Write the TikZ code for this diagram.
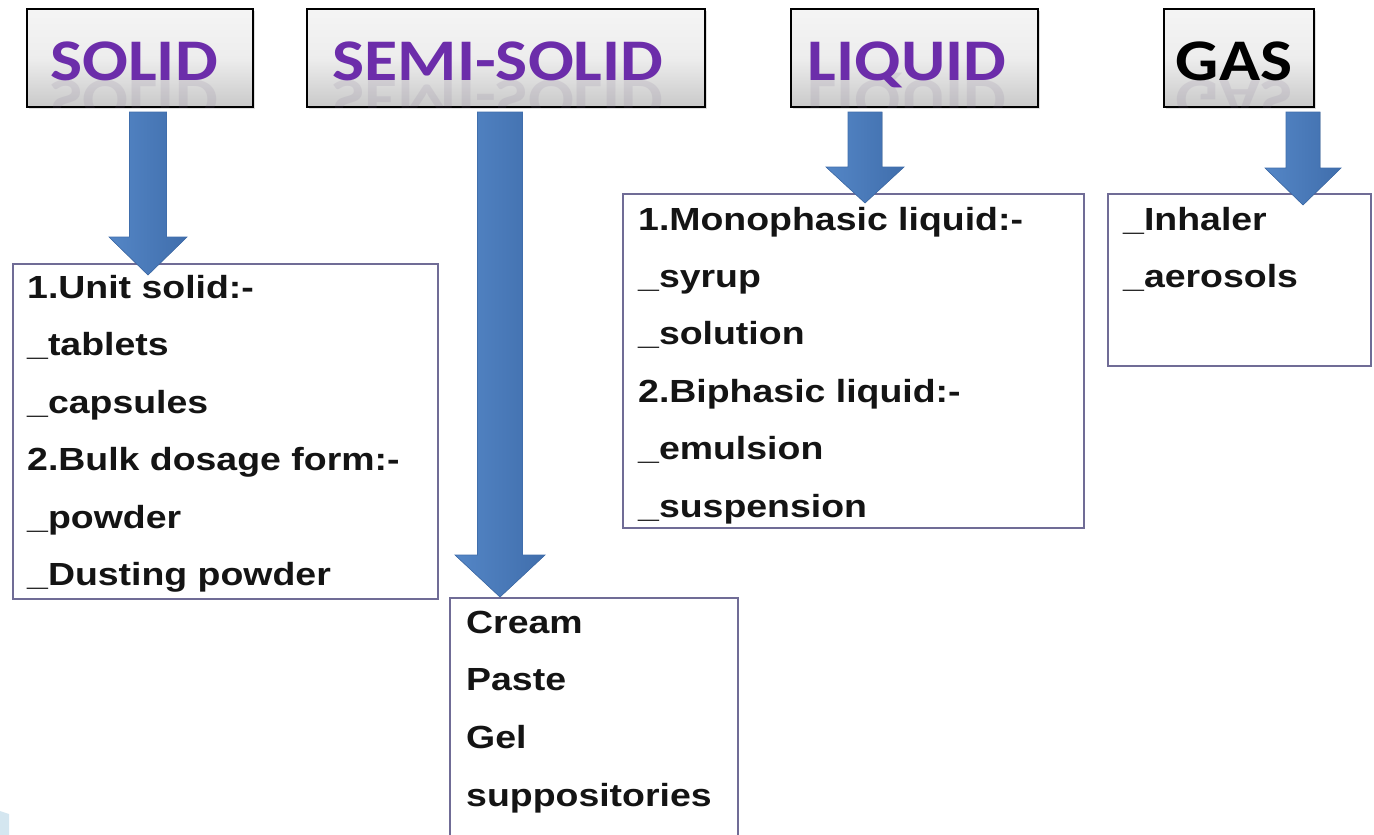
\documentclass[tikz,border=0pt]{standalone}
\usepackage{fontspec}
\usepackage{graphicx}
\setmainfont{Liberation Sans}
\newfontfamily\bodyfont[FakeStretch=1.17]{Liberation Sans}
\newfontfamily\hdrfont[FakeStretch=1.15]{Carlito}
\usetikzlibrary{shadows,calc}
\definecolor{hdrpurple}{RGB}{108,45,170}
\definecolor{arrowblue}{RGB}{84,134,198}
\definecolor{arrowdark}{RGB}{64,110,172}
\definecolor{boxline}{RGB}{112,108,150}
\definecolor{cornerblue}{RGB}{212,230,240}
\tikzset{
  hdrbox/.style={draw=black, line width=1.6pt, top color=gray!8, bottom color=gray!42, middle color=gray!14,
    inner sep=0pt, anchor=north west, drop shadow={shadow xshift=2pt, shadow yshift=-2pt, opacity=0.25}},
  hdrtext/.style={font=\hdrfont\bfseries\fontsize{59}{60}\selectfont, text=hdrpurple, inner sep=0pt, anchor=base},
  hdrrefl/.style={hdrtext, text=gray!70!hdrpurple, opacity=0.13},
  listbox/.style={draw=boxline, line width=1.6pt, fill=white, inner sep=0pt, anchor=north west},
  listtext/.style={font=\bodyfont\bfseries\fontsize{32}{34}\selectfont, text=black!92, inner sep=0pt, anchor=base west},
  arrowshape/.style={left color=arrowblue, right color=arrowdark, draw=arrowdark, line width=0.6pt},
}
% cx, top, head top, tip, shaft half width, head half width
\newcommand\blockarrow[6]{%
  \filldraw[arrowshape] (#1-#5,#2) -- (#1+#5,#2) -- (#1+#5,#3) -- (#1+#6,#3) -- (#1,#4)
    -- (#1-#6,#3) -- (#1-#5,#3) -- cycle;}
% header: name, x, width, text centre x, text, colour
\newcommand\header[6]{%
  \node[hdrbox, minimum width=#3pt, minimum height=98pt] (#1) at (#2,8) {};
  \begin{scope}
    \clip (#1.south west) rectangle (#1.north east);
    \node[hdrrefl] (#1r) at (#4,80) {\scalebox{1}[-1]{#5}};
  \end{scope}
  \node[hdrtext, text=#6] (#1t) at (#4,80) {#5};}
\begin{document}
\begin{tikzpicture}[x=1pt,y=-1pt]
\useasboundingbox[fill=white] (0,0) rectangle (1374,835);

% headers
\header{hsolid}{26}{226}{134}{SOLID}{hdrpurple}
\header{hsemi}{306}{398}{498}{SEMI-SOLID}{hdrpurple}
\header{hliquid}{790}{247}{907}{LIQUID}{hdrpurple}
\header{hgas}{1163}{150}{1234}{GAS}{black}

% content boxes
\node[listbox, minimum width=425pt, minimum height=335pt] (bsolid) at (12,263) {};
\node[listbox, minimum width=461pt, minimum height=334pt] (bliquid) at (622,193) {};
\node[listbox, minimum width=263pt, minimum height=172pt] (bgas) at (1107,193) {};
\node[listbox, minimum width=288pt, minimum height=260pt] (bsemi) at (449,597) {};

% texts
\foreach \t [count=\i] in {{1.Unit solid:-},{\_tablets},{\_capsules},{2.Bulk dosage form:-},{\_powder},{\_Dusting powder}}
  \node[listtext] (s\i) at (27,{298+(\i-1)*57.5}) {\t};
\foreach \t [count=\i] in {{1.Monophasic liquid:-},{\_syrup},{\_solution},{2.Biphasic liquid:-},{\_emulsion},{\_suspension}}
  \node[listtext] (l\i) at (638,{230+(\i-1)*57.4}) {\t};
\foreach \t [count=\i] in {{\_Inhaler},{\_aerosols}}
  \node[listtext] (g\i) at (1123,{230+(\i-1)*57.5}) {\t};
\foreach \t [count=\i] in {{Cream},{Paste},{Gel},{suppositories}}
  \node[listtext] (m\i) at (466,{633+(\i-1)*57.7}) {\t};

% block arrows
\blockarrow{148}{112}{237}{275}{18.5}{39}
\blockarrow{500}{112}{555}{597}{22.5}{45}
\blockarrow{865}{112}{167}{203}{17}{39}
\blockarrow{1303}{112}{168}{205}{17}{38}

% corner artefact
\fill[cornerblue] (0,811) -- (9,814) -- (9,835) -- (0,835) -- cycle;
\end{tikzpicture}
\end{document}
